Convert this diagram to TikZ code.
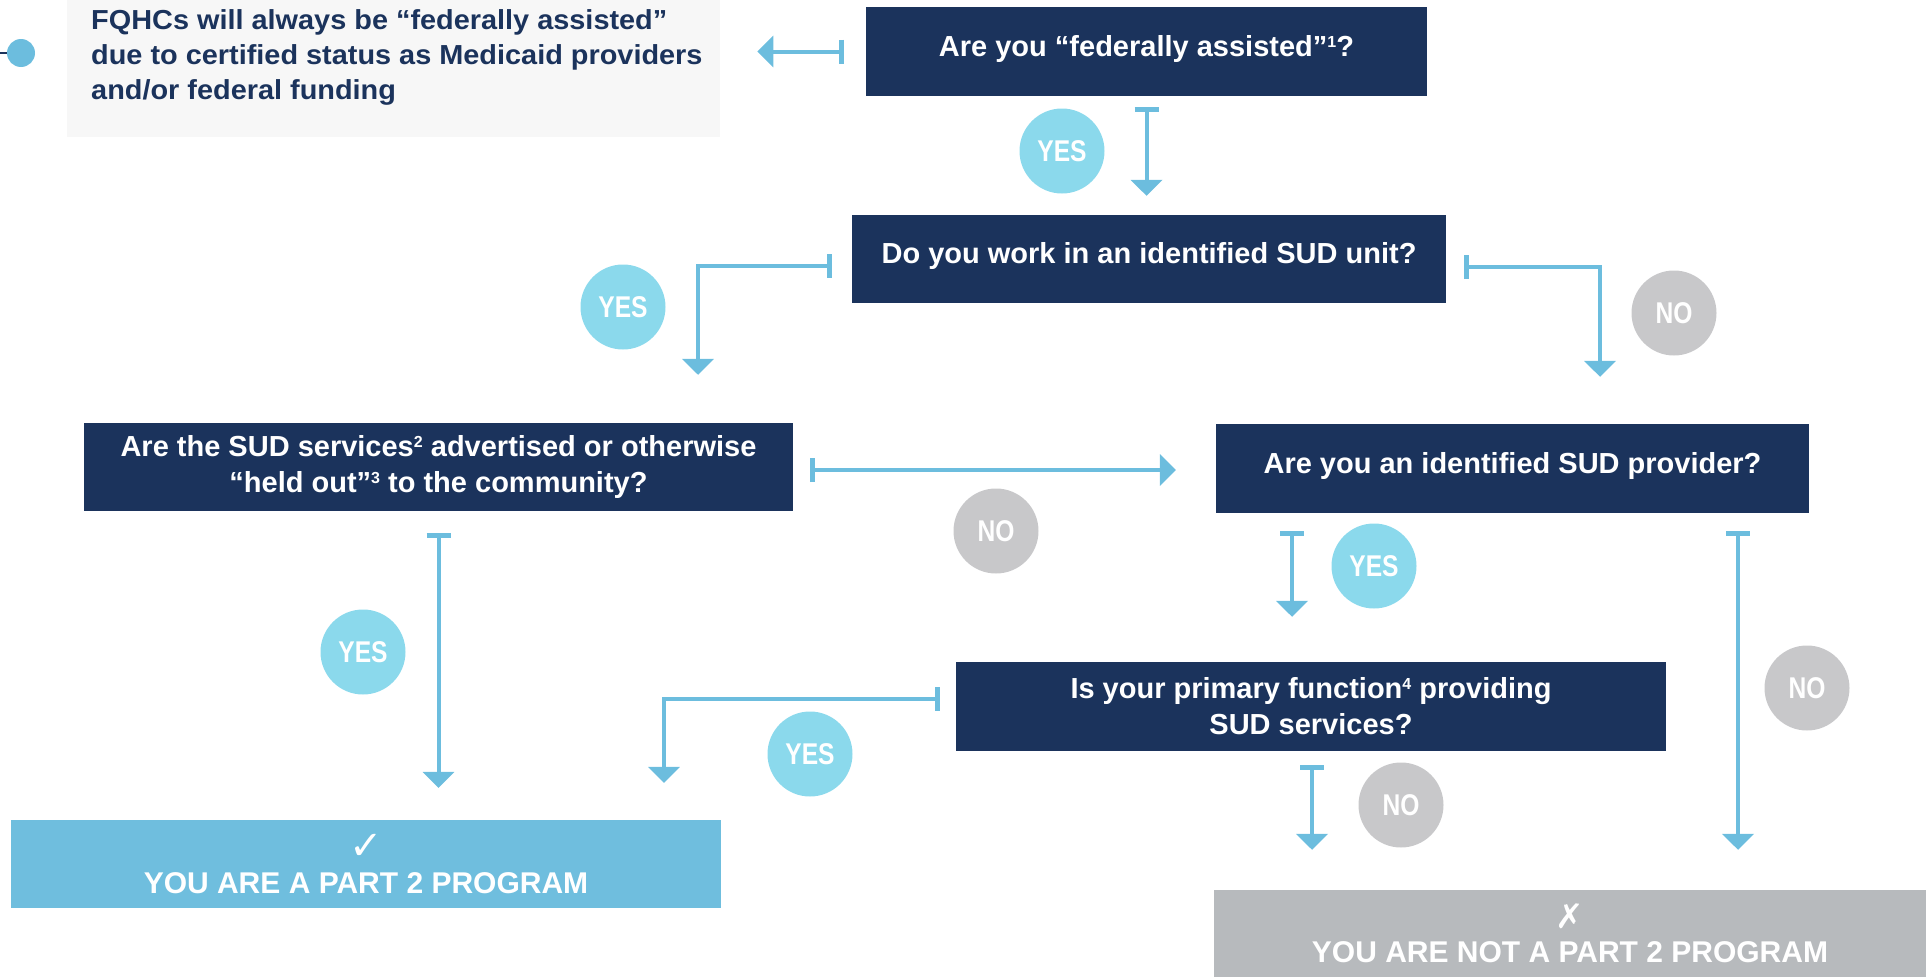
\documentclass[tikz,border=0pt]{standalone}
\usepackage{fontspec}
\setmainfont{Liberation Sans}
\newfontfamily\narrowf{Liberation Sans}[FakeStretch=0.82]
\newfontfamily\widef{Liberation Sans}[FakeStretch=1.05]
\newfontfamily\symf{DejaVu Sans}
\newcommand\supn[1]{\raisebox{9pt}{\fontsize{16}{16}\selectfont #1}}
\usetikzlibrary{arrows.meta,calc}
\definecolor{navy}{HTML}{1B335C}
\definecolor{arrowc}{HTML}{6CBDDE}
\definecolor{yesc}{HTML}{8BD9EC}
\definecolor{noc}{HTML}{C8C8CA}
\definecolor{greenc}{HTML}{6FBEDE}
\definecolor{greyc}{HTML}{B7BABD}
\definecolor{lightbg}{HTML}{F7F7F7}
\begin{document}
\begin{tikzpicture}[x=1pt,y=-1pt,
  qbox/.style={fill=navy,text=white,inner sep=0pt,font=\bfseries\fontsize{29}{36}\selectfont},
  onel/.style={text height=21pt,text depth=12pt},
  conn/.style={draw=arrowc,line width=4pt,{Bar[width=24pt,line width=5pt]}-{Triangle[width=31pt,length=16pt]}},
  ans/.style={circle,text=white,minimum size=85pt,inner sep=0pt,font=\narrowf\bfseries\fontsize{30}{30}\selectfont},
  yesl/.style={ans,fill=yesc},
  nol/.style={ans,fill=noc},
  endbox/.style={inner sep=0pt,text=white,align=center,font=\bfseries\fontsize{30}{34}\selectfont}
]
\useasboundingbox (0,0) rectangle (1931,977);

% FQHC note
\node[fill=lightbg,minimum width=653pt,minimum height=137pt,inner sep=0pt,anchor=north west] (fqbg) at (67,0) {};
\node[anchor=north west,inner sep=0pt,align=left,text=navy,font=\widef\bfseries\fontsize{27.5}{35}\selectfont] (fq) at (91,9)
  {FQHCs will always be “federally assisted”\\due to certified status as Medicaid providers\\and/or federal funding};
\node[circle,fill=arrowc,minimum size=28pt,inner sep=0pt] (dot) at (21,53) {};
\coordinate (dotl) at (0,53);
\draw[navy,line width=2pt] (dotl) -- (dot.west);

% question boxes
\node[qbox,onel,minimum width=561pt,minimum height=89pt] (q1) at (1146.5,51.5) {Are you “federally assisted”\supn{1}?};
\node[qbox,onel,minimum width=594pt,minimum height=88pt] (q2) at (1149,259) {Do you work in an identified SUD unit?};
\node[qbox,align=center,minimum width=709pt,minimum height=88pt] (q3) at (438.5,467) {Are the SUD services\supn{2} advertised or otherwise\\“held out”\supn{3} to the community?};
\node[qbox,onel,minimum width=593pt,minimum height=89pt] (q4) at (1512.5,468.5) {Are you an identified SUD provider?};
\node[qbox,align=center,minimum width=710pt,minimum height=89pt] (q5) at (1311,706.5) {Is your primary function\supn{4} providing\\SUD services?};

% end boxes
\node[endbox,fill=greenc,minimum width=710pt,minimum height=88pt] (yesend) at (366,864) {{\symf\bfseries\fontsize{40}{40}\selectfont ✓}\\YOU ARE A PART 2 PROGRAM};
\node[endbox,fill=greyc,minimum width=712pt,minimum height=87pt] (noend) at (1570,933.5) {{\symf\bfseries\fontsize{34}{34}\selectfont ✗}\\YOU ARE NOT A PART 2 PROGRAM};

% connectors
\draw[conn,shorten <=22pt,shorten >=37pt] (q1.west) -- (q1.west -| fqbg.east);
\draw[conn,shorten <=11pt,shorten >=19pt] (q1.south) -- (q1.south |- q2.north);
\draw[conn,shorten <=20pt,shorten >=48pt] ($(q2.west)+(0,7)$) -| ($(q3.north)+(259.5,0)$);
\draw[conn,shorten <=18pt,shorten >=47pt] ($(q2.east)+(0,8)$) -| ($(q4.north)+(87.5,0)$);
\coordinate (c5) at ($(q3.east)+(0,3)$);
\draw[conn,shorten <=17pt,shorten >=40pt] (c5) -- (c5 -| q4.west);
\draw[conn,shorten <=22pt,shorten >=32pt] (q3.south) -- (q3.south |- yesend.north);
\coordinate (c7) at ($(q4.south)+(-220.5,0)$);
\draw[conn,shorten <=18pt,shorten >=45pt] (c7) -- (c7 |- q5.north);
\coordinate (c8) at ($(q4.south)+(225.5,0)$);
\draw[conn,shorten <=18pt,shorten >=40pt] (c8) -- (c8 |- noend.north);
\draw[conn,shorten <=16pt,shorten >=37pt] ($(q5.west)+(0,-7.5)$) -| ($(yesend.north)+(298,0)$);
\coordinate (c10) at ($(q5.south)+(1,0)$);
\draw[conn,shorten <=14pt,shorten >=40pt] (c10) -- (c10 |- noend.north);

% answer labels
\node[yesl] (y1) at (1062,151) {YES};
\node[yesl] (y2) at (623,307) {YES};
\node[yesl] (y3) at (363,652) {YES};
\node[yesl] (y4) at (1374,566) {YES};
\node[yesl] (y5) at (810,754) {YES};
\node[nol] (n1) at (1674,313) {NO};
\node[nol] (n2) at (996,531) {NO};
\node[nol] (n3) at (1807,688) {NO};
\node[nol] (n4) at (1401,805) {NO};
\end{tikzpicture}
\end{document}
